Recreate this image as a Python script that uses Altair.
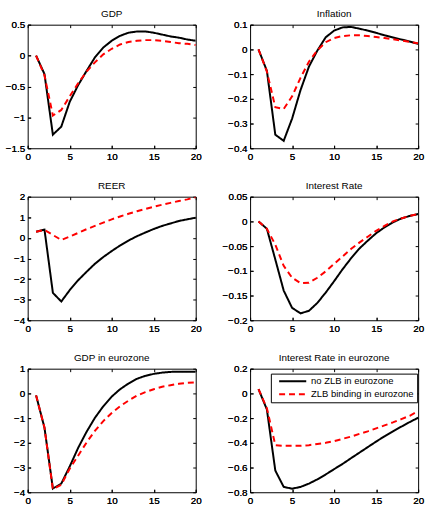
import altair as alt
import pandas as pd

t = list(range(1, 21))
series_names = ["no ZLB in eurozone", "ZLB binding in eurozone"]
x_ticks = [0, 5, 10, 15, 20]

titles = ["GDP", "Inflation", "REER", "Interest Rate", "GDP in eurozone", "Interest Rate in eurozone"]

gdp_nozlb = [0, -0.30, -1.28, -1.15, -0.75, -0.48, -0.25, -0.03, 0.13, 0.24, 0.32, 0.37, 0.39, 0.39, 0.37, 0.34, 0.31, 0.29, 0.26, 0.24]
gdp_zlb = [0, -0.32, -0.97, -0.88, -0.66, -0.45, -0.26, -0.11, 0.02, 0.11, 0.18, 0.22, 0.24, 0.25, 0.25, 0.24, 0.22, 0.20, 0.19, 0.17]

infl_nozlb = [0, -0.087, -0.345, -0.37, -0.28, -0.165, -0.07, -0.005, 0.049, 0.076, 0.089, 0.091, 0.084, 0.076, 0.067, 0.057, 0.048, 0.040, 0.032, 0.022]
infl_zlb = [0, -0.09, -0.234, -0.241, -0.19, -0.115, -0.05, -0.004, 0.029, 0.046, 0.054, 0.057, 0.057, 0.054, 0.050, 0.046, 0.041, 0.036, 0.030, 0.025]

reer_nozlb = [0.30, 0.40, -2.67, -3.09, -2.54, -2.06, -1.65, -1.26, -0.93, -0.64, -0.37, -0.13, 0.08, 0.26, 0.43, 0.58, 0.70, 0.82, 0.90, 0.98]
reer_zlb = [0.30, 0.38, 0.14, -0.10, 0.06, 0.24, 0.42, 0.58, 0.74, 0.90, 1.04, 1.17, 1.29, 1.40, 1.51, 1.61, 1.70, 1.79, 1.87, 1.97]

ir_nozlb = [0, -0.015, -0.077, -0.140, -0.175, -0.186, -0.181, -0.165, -0.144, -0.121, -0.097, -0.075, -0.055, -0.039, -0.024, -0.012, -0.002, 0.006, 0.011, 0.015]
ir_zlb = [0, -0.015, -0.047, -0.090, -0.114, -0.125, -0.124, -0.114, -0.101, -0.086, -0.071, -0.056, -0.043, -0.031, -0.019, -0.009, 0.000, 0.006, 0.011, 0.015]

gdpez_nozlb = [-0.08, -1.39, -3.85, -3.65, -2.96, -2.21, -1.56, -0.99, -0.52, -0.13, 0.17, 0.40, 0.59, 0.71, 0.79, 0.84, 0.87, 0.88, 0.88, 0.88]
gdpez_zlb = [-0.08, -1.39, -3.88, -3.70, -3.05, -2.52, -1.99, -1.52, -1.12, -0.79, -0.52, -0.29, -0.09, 0.05, 0.17, 0.27, 0.33, 0.39, 0.43, 0.45]

irez_nozlb = [0.035, -0.13, -0.624, -0.757, -0.771, -0.757, -0.730, -0.696, -0.656, -0.613, -0.571, -0.525, -0.480, -0.435, -0.390, -0.347, -0.307, -0.269, -0.232, -0.197]
irez_zlb = [0.035, -0.12, -0.419, -0.424, -0.424, -0.424, -0.419, -0.410, -0.400, -0.387, -0.368, -0.350, -0.328, -0.307, -0.283, -0.259, -0.235, -0.208, -0.181, -0.144]

y_ticks = [
    [-1.5, -1, -0.5, 0, 0.5],
    [-0.4, -0.3, -0.2, -0.1, 0, 0.1],
    [-4, -3, -2, -1, 0, 1, 2],
    [-0.2, -0.15, -0.1, -0.05, 0, 0.05],
    [-4, -3, -2, -1, 0, 1],
    [-0.8, -0.6, -0.4, -0.2, 0, 0.2],
]
y_domains = [[-1.5, 0.5], [-0.4, 0.1], [-4, 2], [-0.2, 0.05], [-4, 1], [-0.8, 0.2]]
pairs = [
    (gdp_nozlb, gdp_zlb), (infl_nozlb, infl_zlb), (reer_nozlb, reer_zlb),
    (ir_nozlb, ir_zlb), (gdpez_nozlb, gdpez_zlb), (irez_nozlb, irez_zlb),
]

FONT = "Liberation Sans"
W, H = 170, 125

color_scale = alt.Scale(domain=series_names, range=["#000000", "#ff0000"])
dash_scale = alt.Scale(domain=series_names, range=[[1, 0], [6, 4]])


def axis_main(orient, values):
    return alt.Axis(orient=orient, values=values, title=None, format="~g",
                    domain=False, grid=False, ticks=True, tickSize=3, tickWidth=1,
                    tickColor="black", offset=-3, labelPadding=3, labelFontSize=10,
                    labelFont=FONT, labelColor="black", labelFlush=False,
                    labelOverlap=False)


def axis_frame(orient, values):
    return alt.Axis(orient=orient, values=values, title=None, labels=False,
                    domain=False, grid=False, ticks=True, tickSize=3, tickWidth=1,
                    tickColor="black", offset=-3, minExtent=0, maxExtent=0)


def panel(i, with_legend=False):
    black, red = pairs[i]
    df = pd.DataFrame({
        "t": t + t,
        "v": black + red,
        "s": [series_names[0]] * len(t) + [series_names[1]] * len(t),
    })
    xs = alt.Scale(domain=[0, 20], nice=False, zero=False)
    ys = alt.Scale(domain=y_domains[i], nice=False, zero=False)
    if with_legend:
        leg = alt.Legend(title=None, orient="none", legendX=21, legendY=5,
                         symbolType="M0.3,0H14", symbolSize=16, symbolStrokeWidth=2,
                         labelFont=FONT, labelFontSize=9.6, labelColor="black",
                         labelOffset=28, labelLimit=300, rowPadding=2, padding=3,
                         strokeColor="black", fillColor="white", cornerRadius=0)
    else:
        leg = None
    base = alt.Chart(df)
    enc_common = dict(
        x=alt.X("t:Q", scale=xs, axis=axis_main("bottom", x_ticks)),
        y=alt.Y("v:Q", scale=ys, axis=axis_main("left", y_ticks[i])),
        color=alt.Color("s:N", scale=color_scale, legend=leg),
        strokeDash=alt.StrokeDash("s:N", scale=dash_scale, legend=leg),
    )
    black_line = base.transform_filter(alt.datum.s == series_names[0]).mark_line(
        strokeWidth=2, clip=True).encode(**enc_common)
    red_line = base.transform_filter(alt.datum.s == series_names[1]).mark_line(
        strokeWidth=2, clip=True).encode(**enc_common)
    frame = base.mark_point(opacity=0).encode(
        x=alt.X("t:Q", scale=xs, axis=axis_frame("top", x_ticks)),
        y=alt.Y("v:Q", scale=ys, axis=axis_frame("right", y_ticks[i])),
    )
    return alt.layer(black_line, red_line, frame).properties(
        width=W, height=H,
        title=alt.TitleParams(titles[i], fontSize=10, fontWeight=400, font=FONT,
                              color="black", offset=1, anchor="middle"),
    )


charts = [panel(i, with_legend=(i == 5)) for i in range(6)]

chart = alt.concat(*charts, columns=2, spacing={"row": 49, "column": 55}, bounds="flush").resolve_scale(
    color="independent", strokeDash="independent"
).properties(
    padding={"left": 4, "top": 5, "right": 5, "bottom": 2},
    background="white",
).configure_view(stroke="black", strokeWidth=1).configure_title(
    fontSize=10, fontWeight=400, font=FONT, color="black"
)

chart.save("out.html", embed_options={"renderer": "svg", "actions": False})
